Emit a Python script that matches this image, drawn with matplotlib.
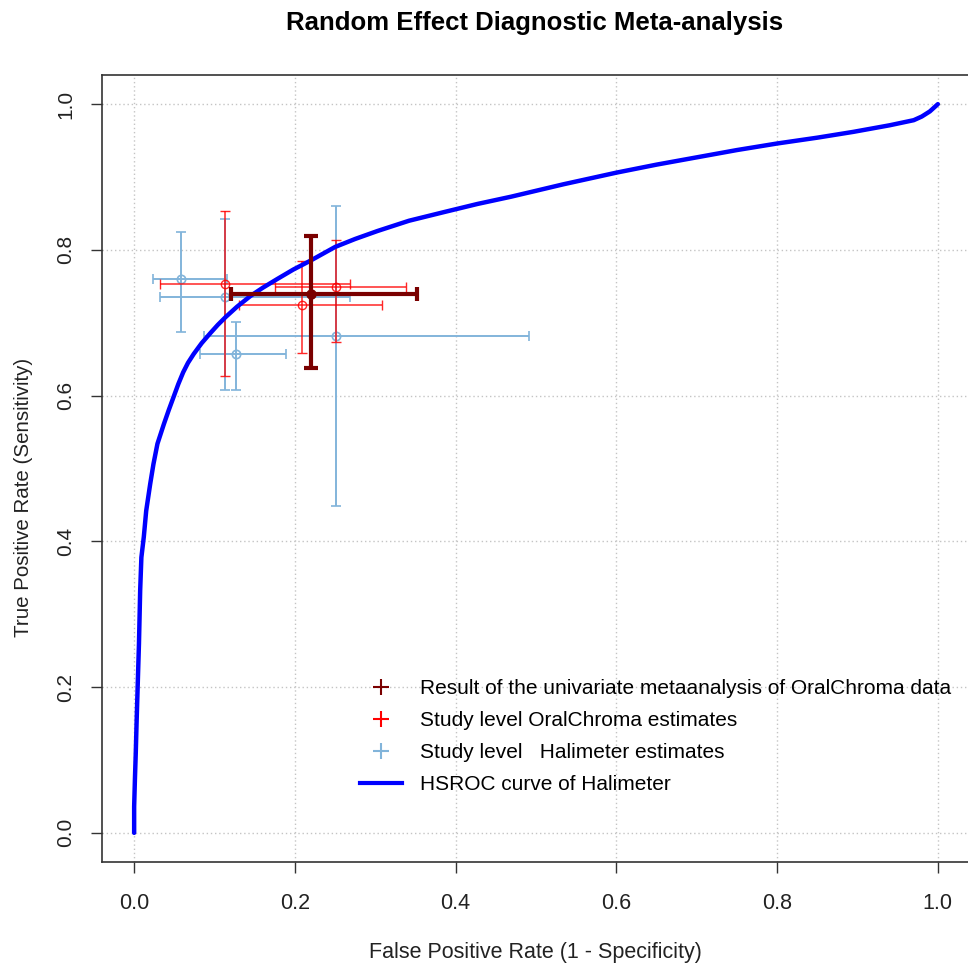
import numpy as np
import matplotlib
matplotlib.use("Agg")
from matplotlib import pyplot as plt
from matplotlib.lines import Line2D

plt.rcParams["font.family"] = ["Liberation Sans", "DejaVu Sans"]

# HSROC curve of Halimeter
curve_fpr = [0.000, 0.000, 0.001, 0.002, 0.003, 0.004, 0.006, 0.0075, 0.009, 0.012,
             0.015, 0.020, 0.024, 0.029, 0.037, 0.043, 0.049, 0.055, 0.061, 0.067,
             0.074, 0.084, 0.095, 0.104, 0.114, 0.128, 0.145, 0.160, 0.178, 0.198,
             0.219, 0.250, 0.275, 0.303, 0.342, 0.386, 0.427, 0.469, 0.534, 0.600,
             0.650, 0.700, 0.750, 0.800, 0.850, 0.895, 0.940, 0.970, 0.980, 0.990,
             1.000]
curve_tpr = [0.000, 0.036, 0.075, 0.109, 0.150, 0.187, 0.260, 0.333, 0.378, 0.406,
             0.442, 0.479, 0.506, 0.534, 0.561, 0.580, 0.598, 0.616, 0.632, 0.645,
             0.657, 0.672, 0.686, 0.697, 0.708, 0.722, 0.737, 0.748, 0.760, 0.773,
             0.785, 0.804, 0.815, 0.826, 0.840, 0.852, 0.863, 0.873, 0.890, 0.906,
             0.917, 0.927, 0.937, 0.946, 0.954, 0.962, 0.971, 0.978, 0.983, 0.990,
             1.000]

# study level OralChroma estimates
oc_fpr = [0.1135, 0.209, 0.251]
oc_fpr_lo = [0.032, 0.131, 0.175]
oc_fpr_hi = [0.268, 0.308, 0.338]
oc_tpr = [0.753, 0.725, 0.749]
oc_tpr_lo = [0.627, 0.658, 0.674]
oc_tpr_hi = [0.854, 0.785, 0.813]

# study level Halimeter estimates
hm_fpr = [0.058, 0.1135, 0.127, 0.251]
hm_fpr_lo = [0.023, 0.032, 0.0815, 0.0865]
hm_fpr_hi = [0.116, 0.268, 0.189, 0.491]
hm_tpr = [0.760, 0.736, 0.657, 0.682]
hm_tpr_lo = [0.687, 0.608, 0.608, 0.449]
hm_tpr_hi = [0.824, 0.842, 0.701, 0.860]

# pooled OralChroma result
pool_fpr = [0.2195]
pool_fpr_lo = [0.1206]
pool_fpr_hi = [0.3516]
pool_tpr = [0.739]
pool_tpr_lo = [0.638]
pool_tpr_hi = [0.819]

ticks = [0.0, 0.2, 0.4, 0.6, 0.8, 1.0]
tick_labels = ["0.0", "0.2", "0.4", "0.6", "0.8", "1.0"]

legend_labels = ["Result of the univariate metaanalysis of OralChroma data",
                 "Study level OralChroma estimates",
                 "Study level   Halimeter estimates",
                 "HSROC curve of Halimeter"]

RED = "#FF0000"
BLUE_LT = "#82B4DA"
DARKRED = "#7A0000"


def errs(v, lo, hi):
    v, lo, hi = np.array(v), np.array(lo), np.array(hi)
    return np.vstack([v - lo, hi - v])


fig = plt.figure(figsize=(9.68, 9.72), dpi=100)
ax = fig.add_axes([102 / 968, 110 / 972, 868 / 968, 787 / 972])

ax.plot(curve_fpr, curve_tpr, color="blue", lw=3.2, zorder=3,
        solid_capstyle="round", solid_joinstyle="round")

ax.errorbar(hm_fpr, hm_tpr, xerr=errs(hm_fpr, hm_fpr_lo, hm_fpr_hi),
            yerr=errs(hm_tpr, hm_tpr_lo, hm_tpr_hi), fmt="o", mfc="none",
            mec=BLUE_LT, ms=6, mew=1.2, ecolor=BLUE_LT, elinewidth=1.4,
            capsize=3.8, capthick=1.4, zorder=2)
ax.errorbar(oc_fpr, oc_tpr, xerr=errs(oc_fpr, oc_fpr_lo, oc_fpr_hi),
            yerr=errs(oc_tpr, oc_tpr_lo, oc_tpr_hi), fmt="o", mfc="none",
            mec=RED, ms=6, mew=1.0, ecolor=RED, elinewidth=1.1, alpha=0.85,
            capsize=3.8, capthick=1.1, zorder=2.5)
ax.errorbar(pool_fpr, pool_tpr, xerr=errs(pool_fpr, pool_fpr_lo, pool_fpr_hi),
            yerr=errs(pool_tpr, pool_tpr_lo, pool_tpr_hi), fmt="o",
            color=DARKRED, ms=6.5, ecolor=DARKRED, elinewidth=3,
            capsize=4.7, capthick=3, zorder=4)

ax.set_xlim(-0.04, 1.04)
ax.set_ylim(-0.04, 1.04)
ax.set_xticks(ticks)
ax.set_xticklabels(tick_labels, fontsize=15.5)
ax.set_yticks(ticks)
ax.set_yticklabels(tick_labels, fontsize=15, rotation=90, va="center")
ax.tick_params(axis="x", direction="out", length=8, width=1, pad=14, colors="#333333",
               labelcolor="#222222")
ax.tick_params(axis="y", direction="out", length=8, width=1, pad=11, colors="#333333",
               labelcolor="#222222")
ax.grid(True, linestyle=(0, (1, 2)), color="#C4C4C4", lw=1)
ax.set_axisbelow(True)
for s in ax.spines.values():
    s.set_color("#333333")
    s.set_linewidth(1.2)

ax.set_xlabel("False Positive Rate (1 - Specificity)", fontsize=15.5, va="center",
              color="#222222")
ax.xaxis.set_label_coords((535 - 102) / 868, (862 - 952) / 787)
ax.set_ylabel("True Positive Rate (Sensitivity)", fontsize=14.8, va="center",
              color="#222222")
ax.yaxis.set_label_coords((23 - 102) / 868, (862 - 497) / 787)

fig.text(535 / 968, 1 - 23 / 972, "Random Effect Diagnostic Meta-analysis",
         ha="center", va="center", fontsize=18.5, fontweight="bold")

handles = [Line2D([], [], ls="none", marker="+", color=DARKRED, ms=12, mew=1.5),
           Line2D([], [], ls="none", marker="+", color=RED, ms=12, mew=1.5),
           Line2D([], [], ls="none", marker="+", color=BLUE_LT, ms=12, mew=1.5),
           Line2D([], [], color="blue", lw=3)]
ax.legend(handles, legend_labels, loc="upper left",
          bbox_to_anchor=((360 - 102) / 868, (862 - 679) / 787),
          frameon=False, fontsize=15, borderpad=0, borderaxespad=0,
          handlelength=2.0, handletextpad=0.9, labelspacing=0.63)

fig.savefig("out.png", dpi=100)
